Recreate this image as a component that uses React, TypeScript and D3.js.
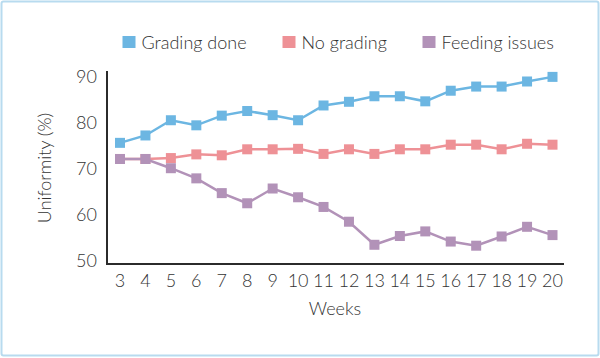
import React from "react";
import * as d3 from "d3";

const weeks = [3, 4, 5, 6, 7, 8, 9, 10, 11, 12, 13, 14, 15, 16, 17, 18, 19, 20];
const gradingDone = [75.4, 77.0, 80.3, 79.2, 81.3, 82.3, 81.4, 80.3, 83.5, 84.3, 85.5, 85.5, 84.4, 86.7, 87.6, 87.6, 88.7, 89.7];
const noGrading = [71.9, 71.9, 72.1, 72.9, 72.7, 74.0, 74.0, 74.1, 73.0, 74.0, 73.0, 74.0, 74.0, 75.0, 75.0, 74.0, 75.2, 75.0];
const feedingIssues = [71.9, 71.9, 69.9, 67.7, 64.5, 62.3, 65.5, 63.6, 61.5, 58.3, 53.3, 55.2, 56.2, 54.0, 53.1, 55.1, 57.2, 55.4];
const yTicks = [50, 60, 70, 80, 90];
const seriesNames = ["Grading done", "No grading", "Feeding issues"];
const seriesColors = ["#6cb6e2", "#ee9196", "#b292b8"];

export default function App() {
  const W = 600, H = 358;
  const x = d3.scaleLinear().domain([3, 20]).range([120, 552.5]);
  const y = d3.scaleLinear().domain([50, 90]).range([260, 75.5]);
  const line = d3.line<number>().x((_, i) => x(weeks[i])).y((d) => y(d));
  const all = [gradingDone, noGrading, feedingIssues];
  const font = "Lato, sans-serif";
  const txt = "#333";
  const fs = 18;
  const legendX = [122.5, 282.5, 422.5];
  return (
    <svg width={W} height={H} style={{ position: "absolute", left: 0, top: 0 }} fontFamily={font} fontWeight={300}>
      <rect x={0} y={0} width={W} height={H} fill="#fff" />
      <rect x={1.5} y={1.5} width={W - 3} height={H - 4} fill="none" stroke="#b8dbef" strokeWidth={2} rx={2} />
      {/* legend */}
      {seriesNames.map((n, i) => (
        <g key={n}>
          <rect x={legendX[i]} y={36} width={13} height={12} fill={seriesColors[i]} />
          <text x={legendX[i] + 19} y={48.5} fontSize={fs} fill={txt}>{n}</text>
        </g>
      ))}
      {/* axes */}
      <line x1={107} x2={107} y1={71} y2={265} stroke="#2b2b2b" strokeWidth={2} />
      <line x1={106} x2={564} y1={264} y2={264} stroke="#2b2b2b" strokeWidth={2} />
      {yTicks.map((t) => (
        <text key={t} x={97} y={y(t) + 1} dy="0.35em" textAnchor="end" fontSize={fs} fill={txt}>{t}</text>
      ))}
      {weeks.map((w) => (
        <text key={w} x={x(w)} y={287} textAnchor="middle" fontSize={fs} fill={txt}>{w}</text>
      ))}
      <text x={335} y={315} textAnchor="middle" fontSize={fs} fill={txt}>Weeks</text>
      <text transform="translate(51,168) rotate(-90)" textAnchor="middle" fontSize={fs} fill={txt}>Uniformity (%)</text>
      {/* series */}
      {all.map((s, k) => (
        <g key={k}>
          <path d={line(s) || ""} fill="none" stroke={seriesColors[k]} strokeWidth={2.5} />
          {s.map((v, i) => (
            <rect key={i} x={x(weeks[i]) - 5} y={y(v) - 5} width={10} height={10} fill={seriesColors[k]} />
          ))}
        </g>
      ))}
    </svg>
  );
}
